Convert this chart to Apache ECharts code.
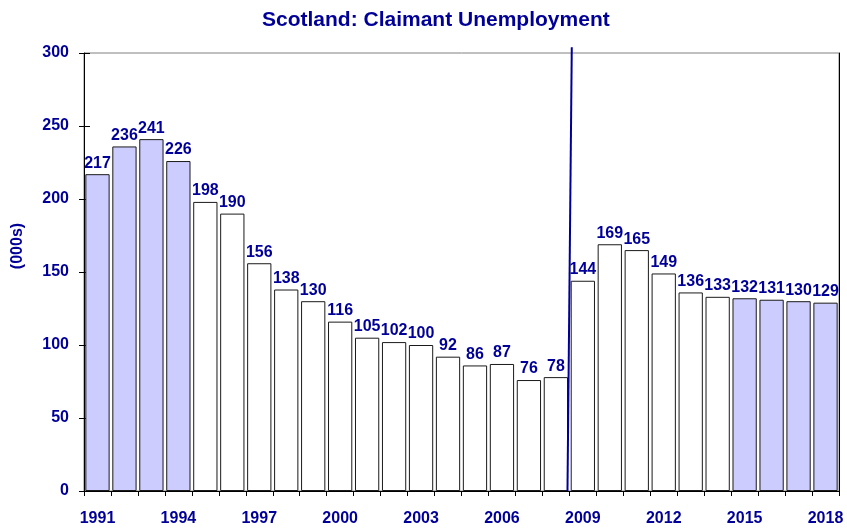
<!DOCTYPE html>
<html>
<head>
<meta charset="utf-8">
<script src="https://cdn.jsdelivr.net/npm/echarts@6/dist/echarts.min.js"></script>
<style>
  html, body { margin: 0; padding: 0; background: #ffffff; }
  #chart { width: 847px; height: 528px; }
</style>
</head>
<body>
<div id="chart"></div>
<script>
// Claimant unemployment in Scotland, thousands, 1991-2018
const years = [
  '1991','1992','1993','1994','1995','1996','1997','1998','1999','2000',
  '2001','2002','2003','2004','2005','2006','2007','2008','2009','2010',
  '2011','2012','2013','2014','2015','2016','2017','2018'
];
const claimants = [
  217, 236, 241, 226, 198, 190, 156, 138, 130, 116,
  105, 102, 100, 92, 86, 87, 76, 78, 144, 169,
  165, 149, 136, 133, 132, 131, 130, 129
];
// Series break between 2008 and 2009 (x in year slots from the first year, y in thousands)
const seriesBreak = [[17.93, 0], [18.09, 304]];
const yTicks = { min: 0, max: 300, step: 50 };

const navy = '#000099';
const lavender = '#ccccff';
const shaded = y => Number(y) <= 1994 || Number(y) >= 2015;

const chart = echarts.init(document.getElementById('chart'), null, { renderer: 'canvas' });
const font = 'Liberation Sans, Arial, sans-serif';

chart.setOption({
  animation: false,
  backgroundColor: '#ffffff',
  textStyle: { fontFamily: font },
  title: {
    text: 'Scotland: Claimant Unemployment',
    left: 262,
    top: 10,
    padding: 0,
    textStyle: { color: navy, fontSize: 21, fontWeight: 'bold', fontFamily: font }
  },
  grid: {
    left: 84, right: 8, top: 53, bottom: 37,
    show: true, borderColor: '#808080', borderWidth: 1, backgroundColor: 'transparent'
  },
  xAxis: [
    {
      type: 'category',
      data: years,
      boundaryGap: true,
      axisLine: { lineStyle: { color: '#000', width: 1 } },
      axisTick: { show: true, interval: 0, alignWithLabel: false, length: 5, lineStyle: { color: '#000' } },
      axisLabel: {
        interval: 2, margin: 20,
        color: navy, fontSize: 16, fontWeight: 'bold', fontFamily: font
      },
      splitLine: { show: false }
    },
    {
      type: 'value', min: 0, max: years.length, show: false, position: 'top'
    }
  ],
  yAxis: [
    {
      type: 'value',
      min: yTicks.min, max: yTicks.max, interval: yTicks.step,
      name: '(000s)',
      nameLocation: 'middle',
      nameGap: 58,
      nameRotate: 90,
      nameTextStyle: { color: navy, fontSize: 16, fontWeight: 'bold', fontFamily: font, padding: [0, 0, 0, 52] },
      axisLine: { show: true, lineStyle: { color: '#000', width: 1 } },
      axisTick: { show: true, length: 5, lineStyle: { color: '#000' } },
      axisLabel: { margin: 15, color: navy, fontSize: 16, fontWeight: 'bold', fontFamily: font },
      splitLine: { show: false }
    },
    {
      // inner half of the crossing ticks
      type: 'value',
      min: yTicks.min, max: yTicks.max, interval: yTicks.step,
      position: 'left',
      axisLine: { show: false },
      axisTick: { show: true, inside: true, length: 6, lineStyle: { color: '#000' } },
      axisLabel: { show: false },
      splitLine: { show: false }
    },
    {
      // right frame edge
      type: 'value',
      min: yTicks.min, max: yTicks.max, interval: yTicks.step,
      position: 'right',
      axisLine: { show: true, lineStyle: { color: '#000', width: 1 } },
      axisTick: { show: false },
      axisLabel: { show: false },
      splitLine: { show: false }
    }
  ],
  series: [
    {
      type: 'bar',
      data: claimants,
      barCategoryGap: '10%',
      itemStyle: {
        color: p => shaded(years[p.dataIndex]) ? lavender : '#ffffff',
        borderColor: '#1a1a1a',
        borderWidth: 1
      },
      label: {
        show: true,
        position: 'top',
        distance: 3,
        color: navy,
        fontSize: 16,
        fontWeight: 'bold',
        fontFamily: font
      }
    },
    {
      type: 'line',
      xAxisIndex: 1,
      yAxisIndex: 0,
      data: seriesBreak,
      symbol: 'none',
      clip: false,
      silent: true,
      lineStyle: { color: navy, width: 2 },
      z: 5
    }
  ]
});
</script>
</body>
</html>
